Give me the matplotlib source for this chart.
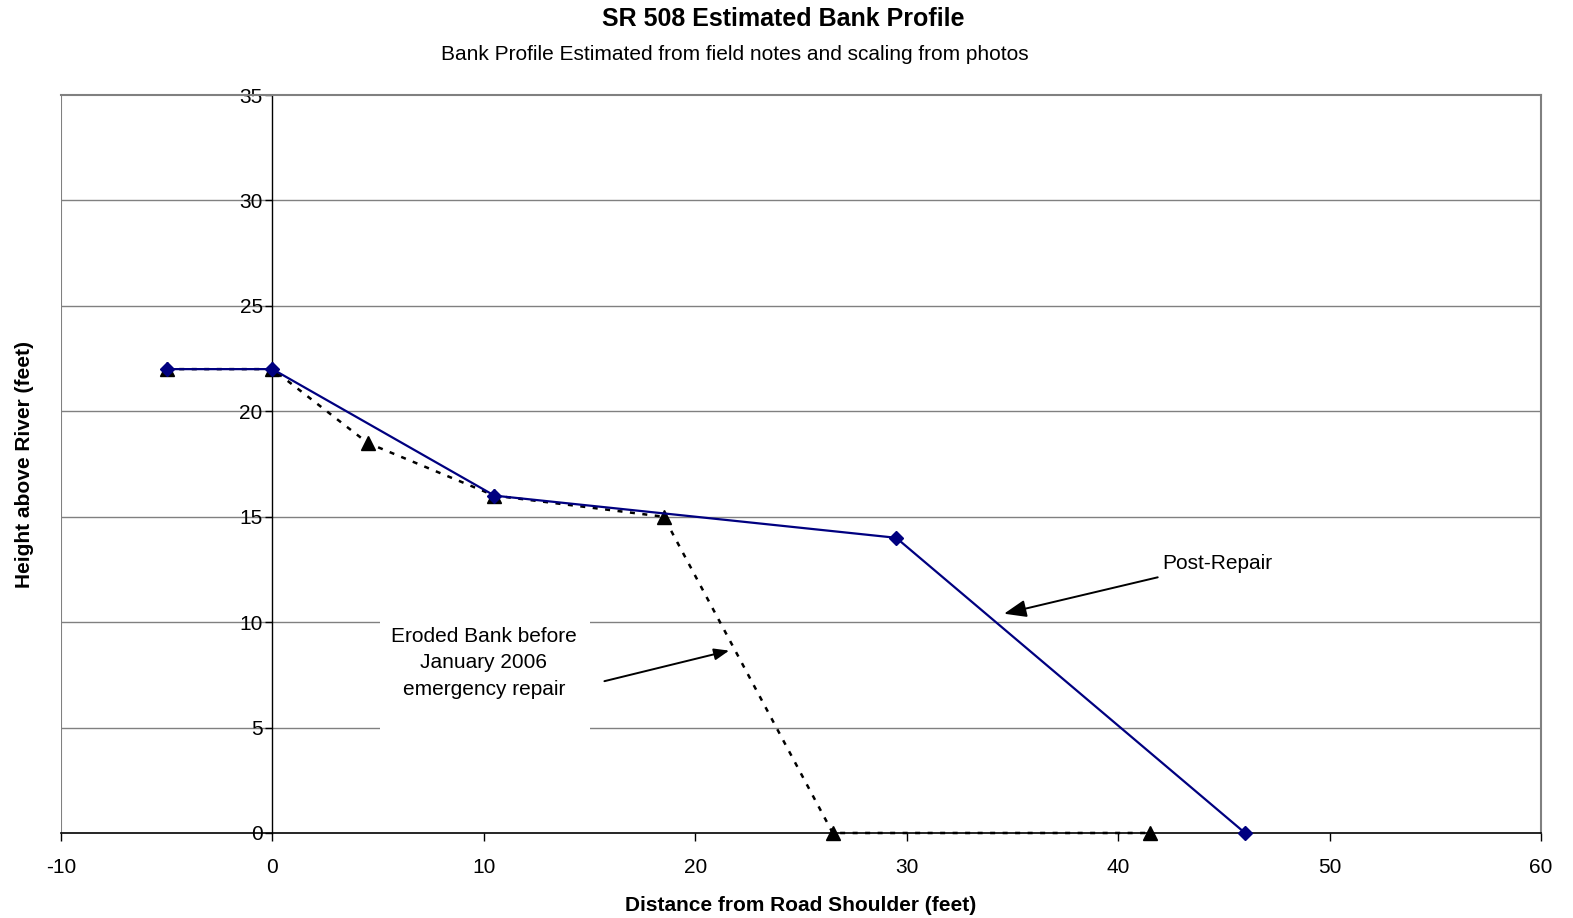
import matplotlib.pyplot as plt
from matplotlib.patches import Rectangle

plt.rcParams["font.family"] = ["Liberation Sans", "DejaVu Sans"]
plt.rcParams["axes.unicode_minus"] = False

# Bank profile points (distance from road shoulder, height above river), feet
post_x = [-5, 0, 10.5, 29.5, 46]
post_y = [22, 22, 16, 14, 0]
eroded_x = [-5, 0, 4.5, 10.5, 18.5, 26.5, 41.5]
eroded_y = [22, 22, 18.5, 16, 15, 0, 0]

x_ticks = [-10, 0, 10, 20, 30, 40, 50, 60]
y_ticks = [0, 5, 10, 15, 20, 25, 30, 35]

fig = plt.figure(figsize=(15.73, 9.18), dpi=100)
ax = fig.add_axes([0.0388, 0.0926, 0.9409, 0.8039])
ax.set_xlim(-10, 60)
ax.set_ylim(0, 35)

grid_grey = "#808080"
for y in y_ticks[1:-1]:
    ax.axhline(y, color=grid_grey, lw=1.0, zorder=1)

# y axis crosses at x = 0, outer frame in grey
ax.spines["left"].set_position(("data", 0))
ax.spines["left"].set_color("black")
ax.spines["left"].set_linewidth(1.0)
ax.spines["bottom"].set_color("black")
ax.spines["bottom"].set_linewidth(1.2)
for side in ("top", "right"):
    ax.spines[side].set_color(grid_grey)
    ax.spines[side].set_linewidth(1.5)
ax.axvline(-10, color=grid_grey, lw=1.5, zorder=1)

ax.set_xticks(x_ticks)
ax.set_yticks(y_ticks)
ax.tick_params(axis="x", direction="out", length=6, width=1, labelsize=15, pad=12)
ax.tick_params(axis="y", direction="out", length=5, width=1, labelsize=15, pad=2)

# white label box over the grid
ax.add_patch(Rectangle((5.1, 4.45), 9.9, 6.0, facecolor="white", edgecolor="none", zorder=2))

ax.plot(eroded_x, eroded_y, color="black", ls=(0, (2, 3)), lw=1.8, marker="^",
        markersize=9.5, zorder=3, clip_on=False)
ax.plot(post_x, post_y, color="#000080", lw=1.6, marker="D", markersize=7,
        zorder=4, clip_on=False)

ax.annotate("Post-Repair", xy=(34.6, 10.4), xytext=(42.1, 12.8), fontsize=15,
            va="center", ha="left", zorder=5,
            arrowprops=dict(arrowstyle="-|>,head_length=0.9,head_width=0.35",
                            color="black", lw=1.4, shrinkA=6, shrinkB=0))
ax.annotate("", xy=(21.6, 8.65), xytext=(15.7, 7.2), zorder=5,
            arrowprops=dict(arrowstyle="-|>,head_length=0.9,head_width=0.35",
                            color="black", lw=1.4, shrinkA=0, shrinkB=0))
ax.text(10.0, 8.07, "Eroded Bank before\nJanuary 2006\nemergency repair", fontsize=15,
        ha="center", va="center", linespacing=1.5, zorder=5)

ax.set_xlabel("Distance from Road Shoulder (feet)", fontsize=15, fontweight="bold", labelpad=14)
ax.set_ylabel("Height above River (feet)", fontsize=15, fontweight="bold")
ax.yaxis.set_label_coords(-0.0182, 0.5)

fig.text(783 / 1573, 1 - 19 / 918, "SR 508 Estimated Bank Profile", fontsize=18,
         fontweight="bold", ha="center", va="center")
fig.text(735 / 1573, 1 - 54 / 918, "Bank Profile Estimated from field notes and scaling from photos",
         fontsize=15, ha="center", va="center")

fig.savefig("out.png", dpi=100)
